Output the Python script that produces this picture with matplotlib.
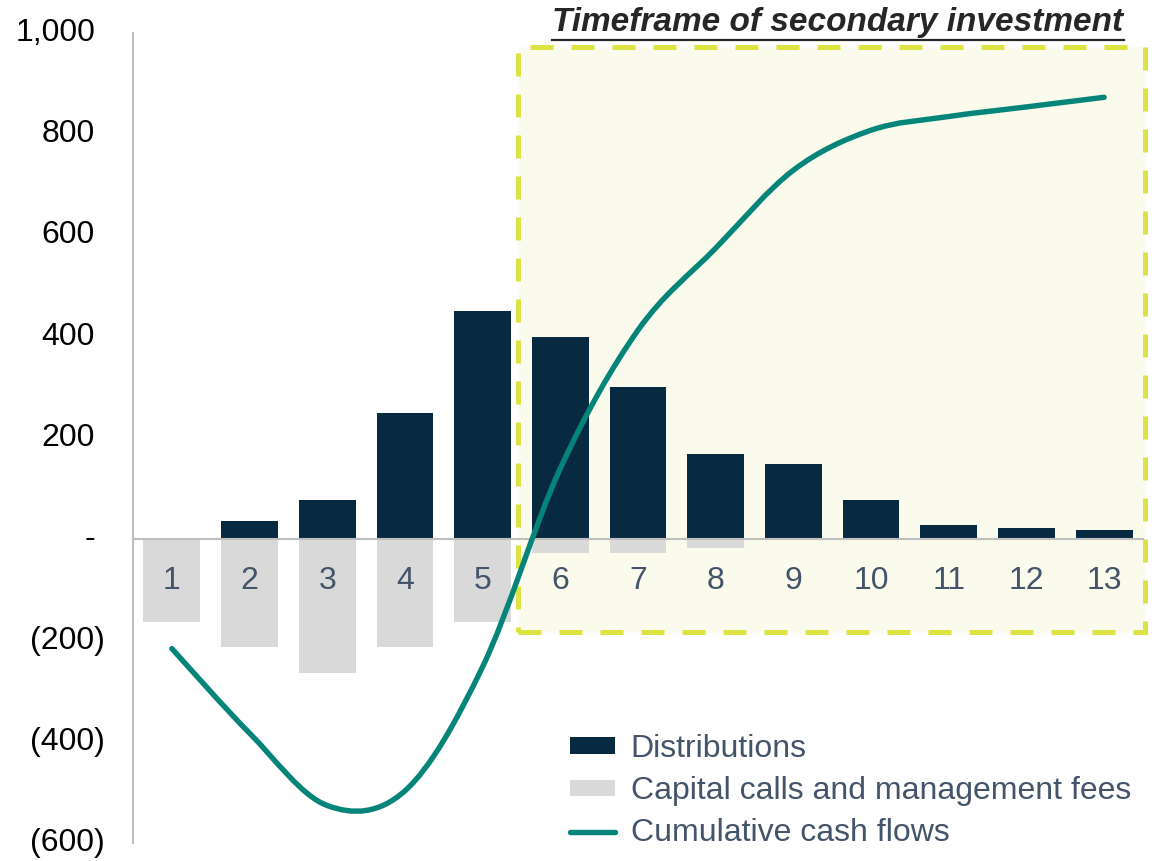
import matplotlib
matplotlib.use("Agg")
import matplotlib.pyplot as plt
from matplotlib.path import Path
from matplotlib.patches import PathPatch, Rectangle, Patch
from matplotlib.lines import Line2D
from matplotlib.transforms import blended_transform_factory, offset_copy

plt.rcParams["font.family"] = ["Liberation Sans", "DejaVu Sans"]

# --- data ---
periods = list(range(1, 14))
distributions = [0, 37, 77, 250, 450, 400, 300, 168, 148, 78, 28, 23, 18]
capital_calls = [-163, -213, -264, -213, -163, -28, -28, -18, 0, 0, 0, 0, 0]
cumulative = [-216, -383, -526, -497, -252, 140, 413, 575, 729, 808, 835, 854, 873]
y_ticks = [1000, 800, 600, 400, 200, 0, -200, -400, -600]
y_labels = ["1,000", "800", "600", "400", "200", "-", "(200)", "(400)", "(600)"]
window_start, window_end = 5.45, 13.52   # secondary investment window (x)
window_low, window_high = -184, 972

NAVY = "#082A40"
GREY = "#D9D9D9"
TEAL = "#05857A"
YELLOW = "#DDE342"
SLATE = "#44546A"
FS = 23

W, H = 1165, 861
fig = plt.figure(figsize=(W / 100, H / 100), dpi=100)
ax = fig.add_axes([133 / W, 18 / H, 1010 / W, 810 / H])
ax.set_xlim(0.5, 13.5)
ax.set_ylim(-600, 1000)

# highlighted window
ax.add_patch(Rectangle((window_start, window_low), window_end - window_start,
                       window_high - window_low, facecolor="#FAFBEC",
                       edgecolor=YELLOW, lw=3.6, linestyle=(0, (4.6, 3.6)),
                       zorder=1, clip_on=False))

ax.bar(periods, distributions, width=0.73, color=NAVY, zorder=3)
ax.bar(periods, capital_calls, width=0.73, color=GREY, zorder=3)

# smoothed cumulative line (bezier through the points, like office "smooth line")
pts = list(zip(periods, cumulative))
verts = [pts[0]]
codes = [Path.MOVETO]
n = len(pts)
for i in range(n - 1):
    p0 = pts[max(i - 1, 0)]
    p1 = pts[i]
    p2 = pts[i + 1]
    p3 = pts[min(i + 2, n - 1)]
    c1 = (p1[0] + (p2[0] - p0[0]) / 6, p1[1] + (p2[1] - p0[1]) / 6)
    c2 = (p2[0] - (p3[0] - p1[0]) / 6, p2[1] - (p3[1] - p1[1]) / 6)
    verts += [c1, c2, p2]
    codes += [Path.CURVE4] * 3
ax.add_patch(PathPatch(Path(verts, codes), fill=False, edgecolor=TEAL,
                       lw=3.9, capstyle="round", joinstyle="round", zorder=6))

# axes styling
for s in ["top", "right"]:
    ax.spines[s].set_visible(False)
ax.spines["left"].set_color("#BFBFBF")
ax.spines["left"].set_linewidth(1.5)
ax.spines["bottom"].set_position(("data", 0))
ax.spines["bottom"].set_color("#BFBFBF")
ax.spines["bottom"].set_linewidth(1.5)
ax.spines["bottom"].set_zorder(3.5)

ax.set_xticks(periods)
ax.tick_params(axis="x", length=0, pad=19, labelsize=FS, labelcolor=SLATE)
ax.xaxis.set_zorder(5)
ax.set_yticks(y_ticks)
ax.set_yticklabels([])
ax.tick_params(axis="y", length=0)

ytrans = blended_transform_factory(ax.transAxes, ax.transData)
for v, lab in zip(y_ticks, y_labels):
    dx = -28 if lab.startswith("(") else -38
    ax.text(0, v, lab, transform=offset_copy(ytrans, fig=fig, x=dx, y=0, units="dots"),
            ha="right", va="center", fontsize=FS, color="black")

# legend
handles = [Patch(facecolor=NAVY), Patch(facecolor=GREY),
           Line2D([], [], color=TEAL, lw=3.9, solid_capstyle="round")]
labels = ["Distributions", "Capital calls and management fees", "Cumulative cash flows"]
fig.legend(handles, labels, loc="upper left", bbox_to_anchor=(554 / W, 1 - 718 / H),
           frameon=False, fontsize=FS, labelcolor=SLATE, handlelength=1.4,
           handleheight=0.4, handletextpad=0.5, labelspacing=0.38, borderpad=0)

# title over the window, underlined
t = fig.text(838 / W, 1 - 23 / H, "Timeframe of secondary investment", ha="center",
             va="center", fontsize=24, fontweight="bold", fontstyle="italic",
             color="#262626")
fig.canvas.draw()
bb = t.get_window_extent()
inv = fig.transFigure.inverted()
(x0, y0), (x1, _) = inv.transform([(bb.x0, bb.y0 - 1), (bb.x1, bb.y0)])
fig.add_artist(Line2D([x0, x1], [y0, y0], transform=fig.transFigure,
                      color="#262626", lw=1.6))

fig.savefig("out.png", dpi=100)
